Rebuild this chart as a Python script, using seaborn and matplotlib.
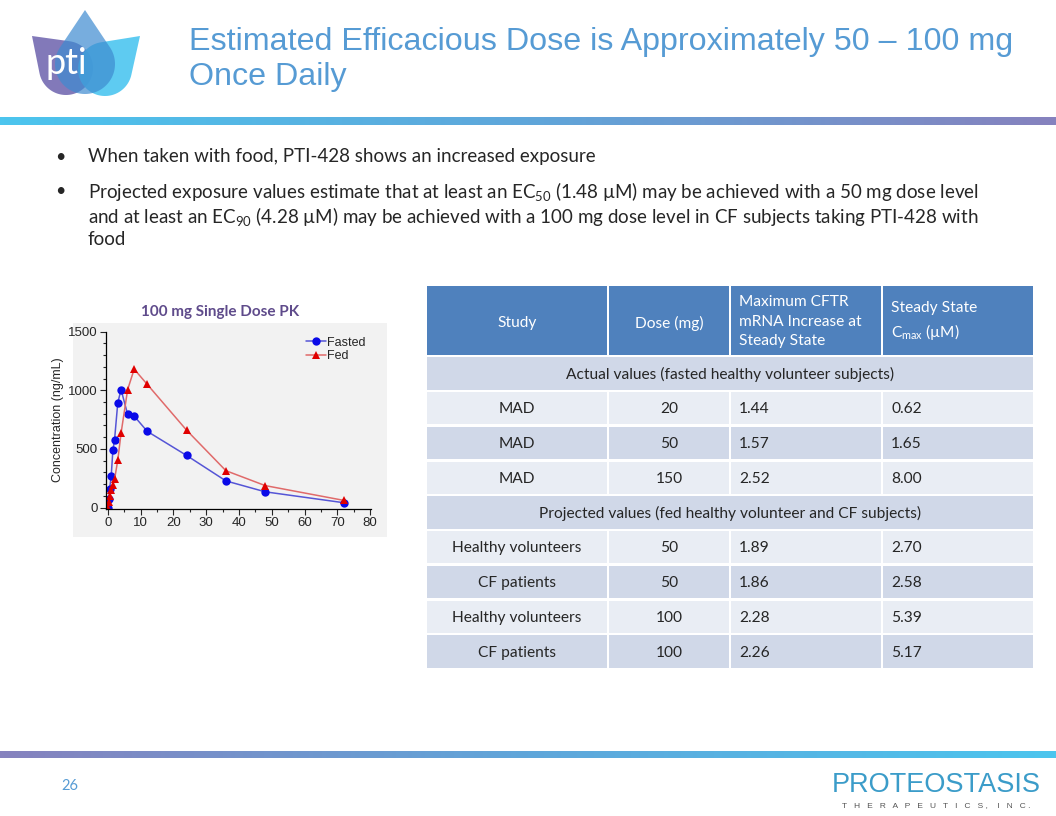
import numpy as np
import pandas as pd
import matplotlib
matplotlib.use("Agg")
import matplotlib.pyplot as plt
import seaborn as sns
from matplotlib.patches import Rectangle, Polygon
from matplotlib.colors import LinearSegmentedColormap
from matplotlib.ticker import MultipleLocator

# -----------------------------
# Data
# -----------------------------
# 100 mg single dose PK
hours = [0, 0.25, 0.5, 1, 1.5, 2, 3, 4, 6, 8, 12, 24, 36, 48, 72]
fasted = [0, 70, 160, 272, 490, 575, 895, 1005, 795, 780, 650, 445, 228, 135, 42]
fed = [0, 45, 100, 150, 190, 240, 405, 635, 1005, 1180, 1050, 660, 315, 188, 62]

# Table
col_headers = ["Study", "Dose (mg)", "Maximum CFTR\nmRNA Increase at\nSteady State",
               "Steady State\nC$_{\\mathrm{max}}$ (µM)"]
actual_label = "Actual values (fasted healthy volunteer subjects)"
actual_study = ["MAD", "MAD", "MAD"]
actual_dose = ["20", "50", "150"]
actual_mrna = ["1.44", "1.57", "2.52"]
actual_cmax = ["0.62", "1.65", "8.00"]
proj_label = "Projected values (fed healthy volunteer and CF subjects)"
proj_study = ["Healthy volunteers", "CF patients", "Healthy volunteers", "CF patients"]
proj_dose = ["50", "50", "100", "100"]
proj_mrna = ["1.89", "1.86", "2.28", "2.26"]
proj_cmax = ["2.70", "2.58", "5.39", "5.17"]

title_lines = ["Estimated Efficacious Dose is Approximately 50 – 100 mg", "Once Daily"]
bullets = [
    "When taken with food, PTI-428 shows an increased exposure",
    "Projected exposure values estimate that at least an EC$_{\\mathrm{50}}$ (1.48 µM) may be achieved with a 50 mg dose level",
    "and at least an EC$_{\\mathrm{90}}$ (4.28 µM) may be achieved with a 100 mg dose level in CF subjects taking PTI-428 with",
    "food",
]

# -----------------------------
# Style
# -----------------------------
sns.set_theme(style="ticks")
plt.rcParams["font.family"] = ["Lato", "DejaVu Sans"]
plt.rcParams["mathtext.fontset"] = "custom"
plt.rcParams["mathtext.rm"] = "Lato"
plt.rcParams["mathtext.it"] = "Lato:italic"
plt.rcParams["mathtext.bf"] = "Lato:bold"

TITLE_BLUE = "#569bd4"

fig = plt.figure(figsize=(10.56, 8.16), dpi=100)
fig.patch.set_facecolor("white")

# slide canvas in pixel units
bg = fig.add_axes([0, 0, 1, 1], zorder=0)
bg.axis("off")

top_cmap = LinearSegmentedColormap.from_list("top", ["#4cc5ee", "#5fa6da", "#8682be"])
bot_cmap = LinearSegmentedColormap.from_list("bot", ["#8682be", "#5fa6da", "#4cc5ee"])
grad = np.linspace(0, 1, 256)[None, :]
bg.imshow(grad, extent=(0, 1056, 125, 117), aspect="auto", cmap=top_cmap)
bg.imshow(grad, extent=(0, 1056, 758, 751), aspect="auto", cmap=bot_cmap)


# logo petals
def petal(tip, center, r, color, alpha):
    tip = np.array(tip, float)
    c = np.array(center, float)
    d = np.linalg.norm(tip - c)
    th = np.arctan2(tip[1] - c[1], tip[0] - c[0])
    a = np.arccos(r / d)
    arc = np.linspace(th + a, th + 2 * np.pi - a, 80)
    pts = np.column_stack([c[0] + r * np.cos(arc), c[1] + r * np.sin(arc)])
    pts = np.vstack([tip, pts])
    bg.add_patch(Polygon(pts, closed=True, facecolor=color, edgecolor="none", alpha=alpha))


petal((32, 36), (66, 68), 27, "#7b72b6", 0.95)
petal((140, 36), (105, 69), 27, "#4cc6f0", 0.9)
petal((85, 10), (85, 64), 30, "#3e8bd0", 0.7)
bg.text(66, 63, "pti", color="white", fontsize=26, ha="center", va="center")

for line, yb in zip(title_lines, [50, 85]):
    bg.text(189, yb, line, color=TITLE_BLUE, fontsize=23.2, family="Liberation Sans",
            ha="left", va="baseline")

# bullets
bullet_y = [155, 189, 214, 238]
for i, (line, y) in enumerate(zip(bullets, bullet_y)):
    if i in (0, 1):
        bg.text(60, y, "•", fontsize=13, ha="center", va="center_baseline")
    bg.text(88, y, line, fontsize=13.5, ha="left", va="center_baseline")

bg.text(70, 786, "26", color=TITLE_BLUE, fontsize=10.5, ha="center", va="center")
bg.text(936, 785, "PROTEOSTASIS", color="#3b9cc9", fontsize=19.5, family="Liberation Sans",
        ha="center", va="center")
bg.text(936, 806, "T   H   E   R   A   P   E   U   T   I   C   S ,    I   N   C .", color="#555555",
        fontsize=6, family="Liberation Sans", ha="center", va="center")

# gray panel behind the chart
bg.add_patch(Rectangle((73, 323), 314, 214, facecolor="#f2f2f2", edgecolor="none"))
bg.text(220, 312, "100 mg Single Dose PK", color="#5f4b8b", fontsize=11, fontweight="bold",
        ha="center", va="center")

bg.set_xlim(0, 1056)
bg.set_ylim(816, 0)

# -----------------------------
# PK chart
# -----------------------------
df = pd.DataFrame({
    "Time": hours + hours,
    "Concentration": fasted + fed,
    "Condition": ["Fasted"] * len(hours) + ["Fed"] * len(hours),
})

ax = fig.add_axes([106 / 1056, 1 - 508.6 / 816, 265 / 1056, 177 / 816], zorder=2)
ax.set_facecolor("#f2f2f2")
sns.lineplot(data=df, x="Time", y="Concentration", hue="Condition", style="Condition",
             markers={"Fasted": "o", "Fed": "^"}, dashes=False,
             palette={"Fasted": "#0000e0", "Fed": "#e00000"},
             markersize=6, markeredgewidth=0, linewidth=1.1, legend=False, ax=ax)

line_cols = {"Fasted": ("#5555d6", "#0a0ae8"), "Fed": ("#e06a6a", "#e00000")}
for ln, name in zip(ax.lines, ["Fasted", "Fed"]):
    ln.set_color(line_cols[name][0])
    ln.set_markerfacecolor(line_cols[name][1])
    ln.set_markeredgecolor(line_cols[name][1])
ax.legend(ax.lines[:2], ["Fasted", "Fed"], loc="upper right", frameon=False,
          prop={"family": "Liberation Sans", "size": 9}, handlelength=1.6,
          handletextpad=0.1, labelspacing=0.15, borderaxespad=0.0, markerscale=1.0,
          bbox_to_anchor=(1.0, 1.0))

ax.set_xlim(-0.6, 80.3)
ax.set_ylim(-8, 1500)
ax.xaxis.set_major_locator(MultipleLocator(10))
ax.xaxis.set_minor_locator(MultipleLocator(5))
ax.yaxis.set_major_locator(MultipleLocator(500))
ax.yaxis.set_minor_locator(MultipleLocator(100))
ax.tick_params(which="major", direction="out", length=4, width=0.8, labelsize=9.5, pad=2)
ax.tick_params(which="minor", direction="out", length=2.5, width=0.8)
for lab in ax.get_xticklabels() + ax.get_yticklabels():
    lab.set_family("Liberation Sans")
ax.set_xlabel("")
ax.set_ylabel("Concentration (ng/mL)", family="Liberation Sans", fontsize=9, labelpad=3)
sns.despine(ax=ax)
for s in ["left", "bottom"]:
    ax.spines[s].set_linewidth(0.9)
    ax.spines[s].set_color("black")

# -----------------------------
# Table
# -----------------------------
tab = fig.add_axes([426 / 1056, 1 - 669 / 816, 608 / 1056, 384 / 816], zorder=2)
tab.axis("off")
col_w = [182, 122, 152, 152]
col_x = np.concatenate([[0], np.cumsum(col_w)])
head_h = 71
row_h = (384 - head_h) / 9
FS = 11.2

rows = [("section", actual_label)]
rows += [("data", r) for r in zip(actual_study, actual_dose, actual_mrna, actual_cmax)]
rows += [("section", proj_label)]
rows += [("data", r) for r in zip(proj_study, proj_dose, proj_mrna, proj_cmax)]

gap = 1.2
for j, h in enumerate(col_headers):
    tab.add_patch(Rectangle((col_x[j] + gap, gap), col_w[j] - 2 * gap, head_h - 2 * gap,
                            facecolor="#4f81bd", edgecolor="none"))
    if j < 2:
        tab.text(col_x[j] + col_w[j] / 2, head_h / 2 + 3, h, color="white", fontsize=FS,
                 ha="center", va="center")
    else:
        tab.text(col_x[j] + 9, head_h / 2 + 1, h, color="white", fontsize=FS,
                 ha="left", va="center", linespacing=1.5)

for i, (kind, content) in enumerate(rows):
    y0 = head_h + i * row_h
    fill = "#d0d8e8" if i % 2 == 0 else "#e9edf4"
    yc = y0 + row_h / 2 + 1
    if kind == "section":
        tab.add_patch(Rectangle((gap, y0 + gap), 608 - 2 * gap, row_h - 2 * gap,
                                facecolor=fill, edgecolor="none"))
        tab.text(304, yc, content, fontsize=FS, ha="center", va="center")
    else:
        for j, val in enumerate(content):
            tab.add_patch(Rectangle((col_x[j] + gap, y0 + gap), col_w[j] - 2 * gap, row_h - 2 * gap,
                                    facecolor=fill, edgecolor="none"))
            if j < 2:
                tab.text(col_x[j] + col_w[j] / 2, yc, val, fontsize=FS, ha="center", va="center")
            else:
                tab.text(col_x[j] + 9, yc, val, fontsize=FS, ha="left", va="center")

tab.set_xlim(0, 608)
tab.set_ylim(384, 0)

fig.savefig("out.png", dpi=100, facecolor="white")
